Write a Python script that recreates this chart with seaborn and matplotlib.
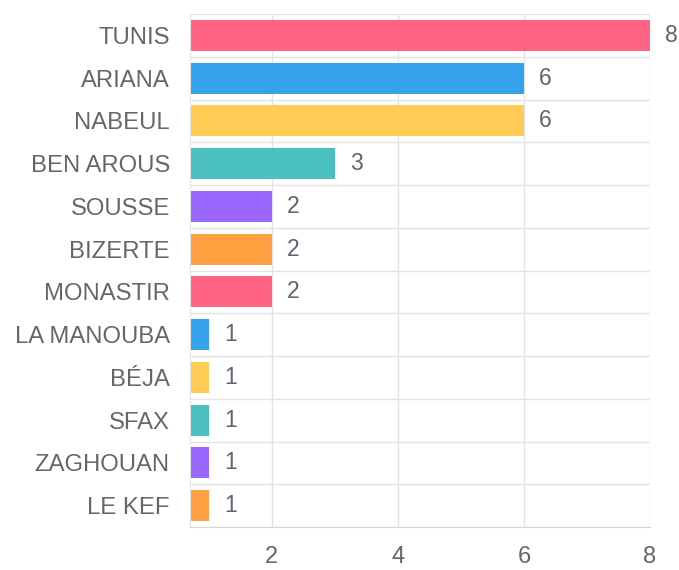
import numpy as np
import pandas as pd
import matplotlib
matplotlib.use("Agg")
import matplotlib.pyplot as plt
import seaborn as sns

# data
regions = ["TUNIS", "ARIANA", "NABEUL", "BEN AROUS", "SOUSSE", "BIZERTE",
           "MONASTIR", "LA MANOUBA", "BÉJA", "SFAX", "ZAGHOUAN", "LE KEF"]
counts = [8, 6, 6, 3, 2, 2, 2, 1, 1, 1, 1, 1]
palette = ["#ff6384", "#36a2eb", "#ffcd56", "#4bc0c0", "#9966ff", "#ff9f40",
           "#ff6384", "#36a2eb", "#ffcd56", "#4bc0c0", "#9966ff", "#ff9f40"]

df = pd.DataFrame({"region": regions, "count": counts})

sns.set_style("white")
plt.rcParams['font.family'] = ['Liberation Sans', 'DejaVu Sans']

grid_c = "#e3e3e3"
fig = plt.figure(figsize=(6.79, 5.70), dpi=100)
ax = fig.add_axes([190 / 679, 1 - 527 / 570, 460 / 679, 513 / 570])

sns.barplot(data=df, x="count", y="region", hue="region", palette=palette,
            orient="h", legend=False, width=0.72, ax=ax, saturation=1,
            edgecolor="none")

for cont in ax.containers:
    ax.bar_label(cont, padding=11, fontsize=16.5, color="#5d6571")

ax.set_xlim(0.7, 8)
ax.set_ylim(11.5, -0.5)
ax.set_xticks([2, 4, 6, 8])
ax.set_yticks(np.arange(-0.5, 12, 1), minor=True)
ax.set_xlabel("")
ax.set_ylabel("")

ax.grid(axis="x", which="major", color=grid_c, linewidth=1)
ax.grid(axis="y", which="minor", color=grid_c, linewidth=1)
ax.set_axisbelow(True)

ax.tick_params(axis="y", which="major", length=0, pad=14.5,
               labelsize=17.2, labelcolor="#666666")
ax.tick_params(axis="y", which="minor", length=14, color=grid_c, width=1)
ax.tick_params(axis="x", which="major", length=11, color=grid_c, width=1,
               pad=3, labelsize=17, labelcolor="#666666")

for s in ["top", "right"]:
    ax.spines[s].set_visible(False)
ax.spines["left"].set_color(grid_c)
ax.spines["bottom"].set_color("#d6d6d6")

fig.savefig("out.png", dpi=100)
